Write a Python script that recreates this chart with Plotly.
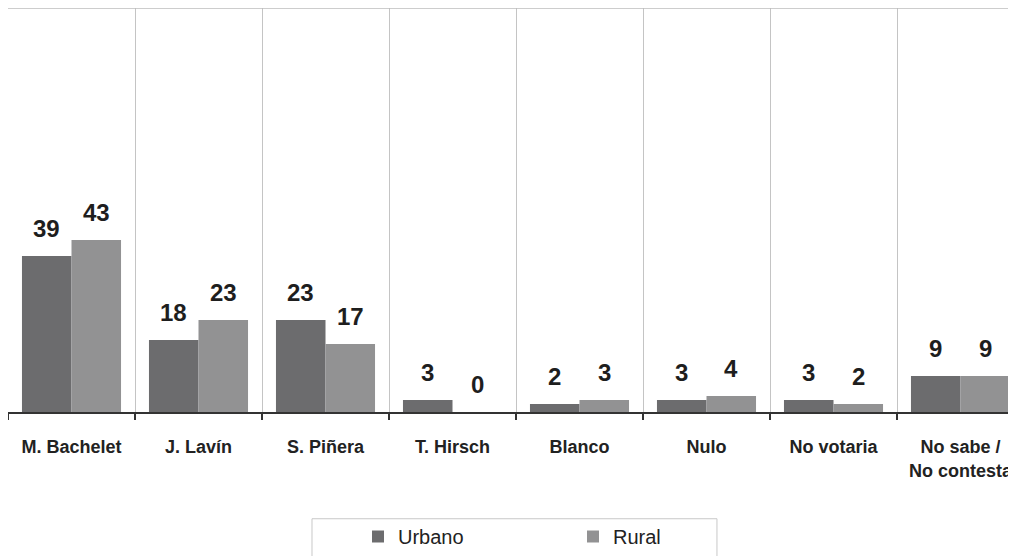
import plotly.graph_objects as go

categories = ["M. Bachelet", "J. Lavín", "S. Piñera", "T. Hirsch", "Blanco", "Nulo", "No votaria", "No sabe /<br>No contesta"]
urbano = [39, 18, 23, 3, 2, 3, 3, 9]
rural = [43, 23, 17, 0, 3, 4, 2, 9]

c_urb = "#6c6c6e"
c_rur = "#929293"
FONT = "Liberation Sans, Arial, sans-serif"

fig = go.Figure()
fig.add_trace(go.Bar(name="Urbano", x=categories, y=urbano, marker=dict(color=c_urb, line=dict(width=0))))
fig.add_trace(go.Bar(name="Rural", x=categories, y=rural, marker=dict(color=c_rur, line=dict(width=0))))

annotations = []
for cat, u, r in zip(categories, urbano, rural):
    for val, xs in ((u, -24.75), (r, 24.75)):
        annotations.append(dict(
            x=cat, y=val, xref="x", yref="y", text=str(val), showarrow=False,
            xshift=xs, yshift=28, yanchor="middle", xanchor="center",
            font=dict(family=FONT, size=24, color="#1e1e1e", weight="bold"),
        ))

fig.update_layout(
    width=1016, height=548,
    margin=dict(l=0, r=0, t=0, b=143),
    paper_bgcolor="white", plot_bgcolor="white",
    barmode="group", bargap=0.22, bargroupgap=0,
    showlegend=True,
    legend=dict(
        orientation="h", x=0.3445, xanchor="left", y=-0.2593, yanchor="top",
        bgcolor="rgba(0,0,0,0)", borderwidth=0,
        font=dict(family=FONT, size=20, color="#222"),
        entrywidth=170, entrywidthmode="pixels",
    ),
    annotations=annotations,
    shapes=[
        dict(type="line", xref="paper", yref="paper", x0=0, x1=1, y0=1, y1=1,
             line=dict(color="#bdbdbd", width=1.5)),
        dict(type="rect", xref="paper", yref="paper", x0=0.2992, x1=0.6978, y0=-0.2642, y1=-0.40,
             line=dict(color="#c8c8c8", width=1), fillcolor="rgba(0,0,0,0)", layer="below"),
    ],
)

fig.update_xaxes(
    type="category", range=[-0.5, 7.5], tickson="boundaries",
    showgrid=True, gridcolor="#c4c4c4", gridwidth=1,
    ticks="outside", ticklen=6, tickcolor="#333", tickwidth=1.5,
    showline=True, linecolor="#333", linewidth=1.5,
    tickfont=dict(family=FONT, size=18, color="#222", weight="bold"),
    ticklabelstandoff=18,
)
fig.update_yaxes(
    range=[0, 101], showgrid=False, showticklabels=False, zeroline=False,
    showline=True, linecolor="#bdbdbd", linewidth=1.5, ticks="",
)

fig.write_html("out.html")
